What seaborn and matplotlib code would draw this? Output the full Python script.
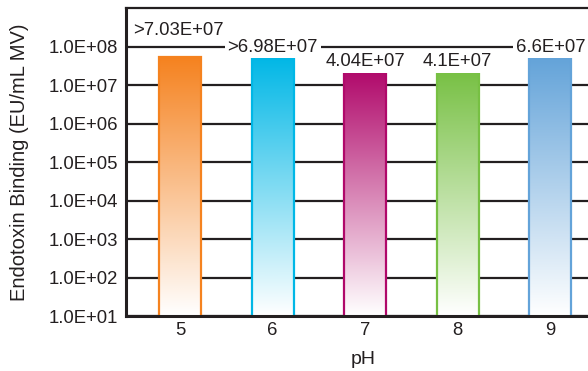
import numpy as np
import pandas as pd
import matplotlib
import matplotlib.pyplot as plt
import matplotlib.colors as mcolors
import seaborn as sns

# Data
ph = ['5', '6', '7', '8', '9']
binding = [5.3e7, 5.3e7, 2.4e7, 2.4e7, 5.3e7]          # bar heights as drawn
bar_labels = ['>7.03E+07', '>6.98E+07', '4.04E+07', '4.1E+07', '6.6E+07']
ytick_values = [1e1, 1e2, 1e3, 1e4, 1e5, 1e6, 1e7, 1e8]
ytick_labels = ['1.0E+01', '1.0E+02', '1.0E+03', '1.0E+04',
                '1.0E+05', '1.0E+06', '1.0E+07', '1.0E+08']
bar_colors = ['#f5821f', '#00b7e6', '#b0086a', '#77c043', '#63a3d9']

df = pd.DataFrame({'pH': ph, 'binding': binding})

sns.set_theme(style='white')
plt.rcParams['font.family'] = ['Liberation Sans', 'DejaVu Sans']
dark = '#231f20'

fig = plt.figure(figsize=(5.88, 3.71), dpi=100)
ax = fig.add_axes([0.2143, 0.1482, 0.806, 0.8302])

sns.barplot(data=df, x='pH', y='binding', hue='pH', palette=bar_colors,
            legend=False, width=0.455, ax=ax, zorder=2)
ax.set_yscale('log')
ax.set_ylim(1e1, 1e9)
ax.set_xlim(-0.583, 4.536)
ax.set_autoscale_on(False)

# Gradient fill: full colour at the top, white at the bottom
for patch, col in zip(ax.patches, bar_colors):
    x0 = patch.get_x()
    w = patch.get_width()
    h = patch.get_y() + patch.get_height()
    top = ax.transAxes.inverted().transform(ax.transData.transform((0, h)))[1]
    rgb = np.array(mcolors.to_rgb(col))
    t = np.linspace(0, 1, 256)[:, None]
    grad = (1 - t) * np.ones(3) + t * rgb
    img = grad.reshape(256, 1, 3)
    ax.imshow(img, extent=(x0, x0 + w, 0, top), origin='lower', aspect='auto',
              transform=ax.get_xaxis_transform(), zorder=1.5, interpolation='bilinear')
    patch.set_facecolor('none')
    patch.set_edgecolor(col)
    patch.set_linewidth(1.6)

# Value labels above the bars
offsets = [27, 10, 9, 9, 10]
for i, (lab, h, off) in enumerate(zip(bar_labels, binding, offsets)):
    ax.annotate(lab, xy=(i, h), xytext=(-2 if i == 0 else 0, off),
                textcoords='offset pixels', ha='center', va='center',
                fontsize=13.3, color=dark, zorder=4,
                bbox=dict(boxstyle='square,pad=0.15', fc='white', ec='none'))

ax.set_yticks(ytick_values)
ax.set_yticklabels(ytick_labels)
ax.yaxis.set_minor_locator(matplotlib.ticker.NullLocator())
ax.yaxis.grid(True, color=dark, linewidth=1.6)
ax.set_axisbelow(True)
ax.tick_params(axis='both', length=0, labelsize=13.3, colors=dark)
ax.tick_params(axis='y', pad=5.5)
ax.tick_params(axis='x', pad=4)

for side in ['left', 'bottom']:
    ax.spines[side].set_color(dark)
    ax.spines[side].set_linewidth(2.2)
ax.spines['top'].set_color(dark)
ax.spines['top'].set_linewidth(1.6)
ax.spines['right'].set_visible(False)

ax.set_xlabel('pH', fontsize=14, color=dark, labelpad=9)
ax.set_ylabel('Endotoxin Binding (EU/mL MV)', fontsize=14.5, color=dark, labelpad=14)

fig.savefig('out.png', dpi=100)
